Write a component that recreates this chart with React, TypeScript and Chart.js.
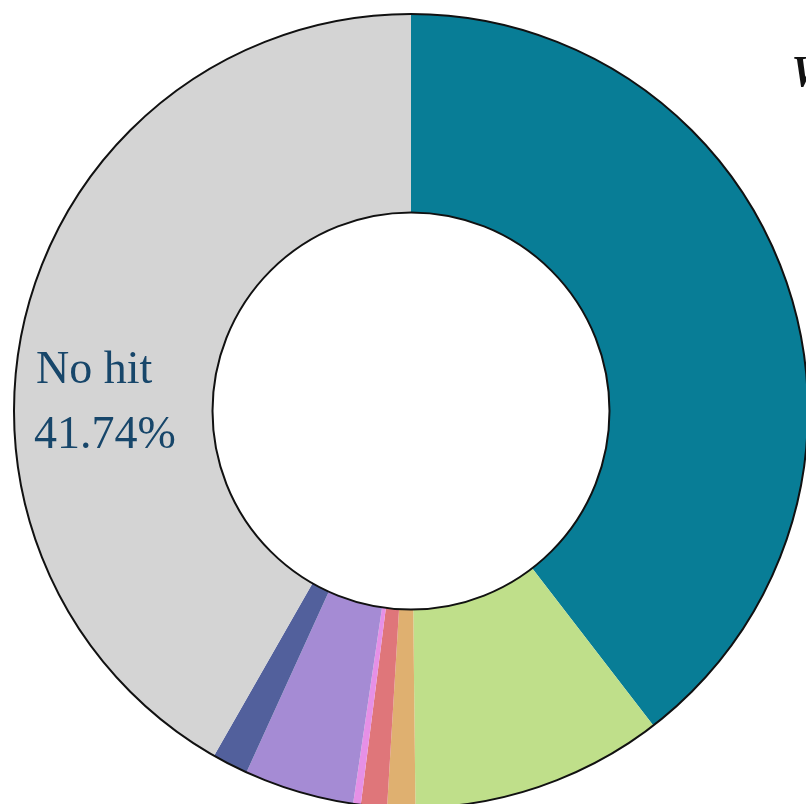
import React, { useEffect, useRef } from "react";
import { Chart, registerables } from "chart.js";

Chart.register(...registerables);

const categories = [
  "Category 1",
  "Category 2",
  "Category 3",
  "Category 4",
  "Category 5",
  "Category 6",
  "Category 7",
  "No hit",
];
const shares = [39.55, 10.27, 1.14, 1.06, 0.31, 4.47, 1.46, 41.74];
const sliceColors = [
  "#087d96",
  "#bfdf8a",
  "#dfb070",
  "#df767a",
  "#e690e6",
  "#a58bd4",
  "#52609c",
  "#d4d4d4",
];
const labelledCategory = "No hit";

const outlinePlugin = {
  id: "outlineAndLabel",
  afterDatasetsDraw(chart: any) {
    const meta = chart.getDatasetMeta(0);
    const arc = meta.data[0];
    if (!arc) return;
    const { x, y, outerRadius, innerRadius } = arc.getProps(
      ["x", "y", "outerRadius", "innerRadius"],
      true
    );
    const ctx = chart.ctx;
    ctx.save();
    ctx.strokeStyle = "#111111";
    ctx.lineWidth = 2;
    ctx.beginPath();
    ctx.arc(x, y, outerRadius, 0, Math.PI * 2);
    ctx.stroke();
    ctx.beginPath();
    ctx.arc(x, y, innerRadius, 0, Math.PI * 2);
    ctx.stroke();

    const idx = categories.indexOf(labelledCategory);
    const total = shares.reduce((a, b) => a + b, 0);
    const pct = ((shares[idx] / total) * 100).toFixed(2) + "%";
    ctx.fillStyle = "#17466a";
    ctx.font = '46px "Liberation Serif", "Times New Roman", serif';
    ctx.textAlign = "left";
    ctx.textBaseline = "alphabetic";
    ctx.fillText(categories[idx], x - 375, y - 28);
    ctx.fillText(pct, x - 377, y + 37);
    ctx.restore();
  },
};

export default function App() {
  const canvasRef = useRef<HTMLCanvasElement | null>(null);

  useEffect(() => {
    document.documentElement.style.overflow = "hidden";
    document.body.style.overflow = "hidden";
    document.body.style.margin = "0";
    const canvas = canvasRef.current;
    if (!canvas) return;
    const chart = new Chart(canvas, {
      type: "doughnut",
      data: {
        labels: categories,
        datasets: [
          {
            data: shares,
            backgroundColor: sliceColors,
            borderWidth: 0,
            hoverOffset: 0,
          },
        ],
      },
      options: {
        responsive: false,
        animation: false,
        cutout: "50%",
        layout: { padding: 6 },
        plugins: {
          legend: { display: false },
          tooltip: { enabled: false },
          title: { display: false },
        },
      },
      plugins: [outlinePlugin],
    });
    return () => chart.destroy();
  }, []);

  return (
    <div
      style={{
        position: "relative",
        width: 806,
        height: 804,
        overflow: "hidden",
        background: "#ffffff",
      }}
    >
      <canvas
        ref={canvasRef}
        width={806}
        height={806}
        style={{ display: "block", position: "absolute", left: 8, top: 8 }}
      />
      <div
        style={{
          position: "absolute",
          left: 791,
          top: 45,
          font: 'italic bold 45px "Liberation Serif", "Times New Roman", serif',
          color: "#111111",
          whiteSpace: "nowrap",
        }}
      >
        W
      </div>
    </div>
  );
}
